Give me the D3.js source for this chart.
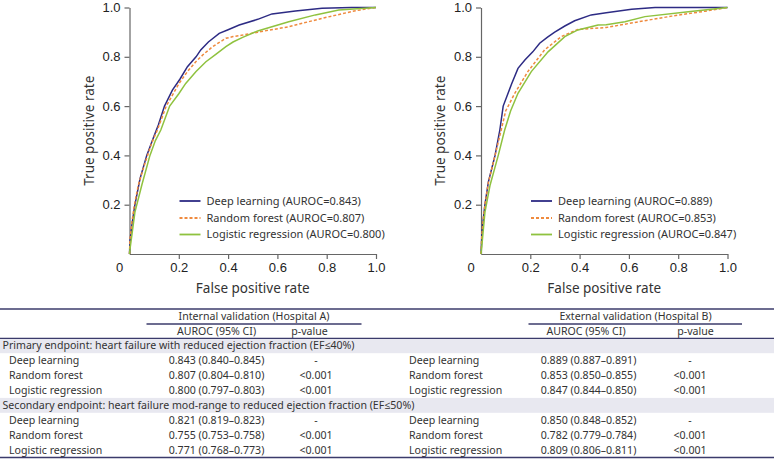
<!DOCTYPE html>
<html><head><meta charset="utf-8">
<script src="https://cdn.jsdelivr.net/npm/d3@7"></script>
<style>body{margin:0;background:#fff}svg{display:block}</style>
</head><body>
<script>
// ---------- DATA ----------
const seriesNames = ["Deep learning", "Random forest", "Logistic regression"];
const aurocA = ["0.843", "0.807", "0.800"];
const aurocB = ["0.889", "0.853", "0.847"];
const xTickLabels = ["0.2", "0.4", "0.6", "0.8", "1.0"];
const yTickLabels = ["0.2", "0.4", "0.6", "0.8", "1.0"];
const xTicks = [0.2, 0.4, 0.6, 0.8, 1.0];
const yTicks = [0.2, 0.4, 0.6, 0.8, 1.0];

// ROC curves (FPR, TPR) – Hospital A
const deepA = [[0,0],[0.002,0.05],[0.01,0.12],[0.022,0.2],[0.043,0.307],[0.07,0.4],[0.1,0.48],[0.117,0.523],[0.142,0.6],[0.174,0.665],[0.205,0.71],[0.235,0.76],[0.27,0.8],[0.289,0.828],[0.32,0.86],[0.364,0.895],[0.4,0.91],[0.445,0.929],[0.52,0.952],[0.578,0.974],[0.673,0.986],[0.781,0.997],[0.9,1.0],[1,1]];
const rfA = [[0,0],[0.002,0.06],[0.01,0.13],[0.02,0.2],[0.036,0.28],[0.06,0.36],[0.09,0.45],[0.113,0.503],[0.149,0.6],[0.201,0.692],[0.235,0.74],[0.269,0.78],[0.3,0.81],[0.337,0.841],[0.37,0.862],[0.391,0.875],[0.42,0.882],[0.459,0.888],[0.52,0.9],[0.646,0.922],[0.781,0.956],[0.917,0.987],[1,1]];
const lrA = [[0,0],[0.002,0.02],[0.01,0.08],[0.022,0.17],[0.05,0.28],[0.083,0.4],[0.105,0.46],[0.127,0.503],[0.163,0.6],[0.2,0.65],[0.228,0.692],[0.27,0.74],[0.31,0.78],[0.35,0.81],[0.391,0.841],[0.42,0.86],[0.459,0.879],[0.52,0.905],[0.646,0.942],[0.754,0.97],[0.849,0.99],[1,1]];
// ROC curves – Hospital B
const deepB = [[0,0],[0.003,0.064],[0.008,0.13],[0.016,0.2],[0.03,0.293],[0.057,0.4],[0.076,0.5],[0.09,0.6],[0.124,0.69],[0.15,0.753],[0.178,0.787],[0.21,0.82],[0.238,0.855],[0.27,0.88],[0.299,0.9],[0.34,0.925],[0.38,0.946],[0.447,0.97],[0.508,0.979],[0.611,0.993],[0.706,1.0],[1,1]];
const rfB = [[0,0],[0.003,0.07],[0.008,0.13],[0.016,0.2],[0.03,0.29],[0.057,0.4],[0.082,0.503],[0.1,0.58],[0.137,0.652],[0.19,0.74],[0.258,0.828],[0.326,0.882],[0.393,0.911],[0.508,0.919],[0.638,0.942],[0.774,0.965],[0.909,0.985],[1,1]];
const lrB = [[0,0],[0.003,0.03],[0.016,0.17],[0.037,0.28],[0.07,0.4],[0.096,0.503],[0.12,0.58],[0.15,0.652],[0.204,0.74],[0.272,0.82],[0.34,0.882],[0.393,0.909],[0.475,0.929],[0.508,0.93],[0.584,0.942],[0.665,0.963],[0.841,0.983],[1,1]];

// Table
const tableModels = ["Deep learning", "Random forest", "Logistic regression"];
const primaryA = ["0.843 (0.840–0.845)", "0.807 (0.804–0.810)", "0.800 (0.797–0.803)"];
const primaryApv = ["-", "<0.001", "<0.001"];
const primaryB = ["0.889 (0.887–0.891)", "0.853 (0.850–0.855)", "0.847 (0.844–0.850)"];
const primaryBpv = ["-", "<0.001", "<0.001"];
const secondaryA = ["0.821 (0.819–0.823)", "0.755 (0.753–0.758)", "0.771 (0.768–0.773)"];
const secondaryApv = ["-", "<0.001", "<0.001"];
const secondaryB = ["0.850 (0.848–0.852)", "0.782 (0.779–0.784)", "0.809 (0.806–0.811)"];
const secondaryBpv = ["-", "<0.001", "<0.001"];
const sectionTitles = ["Primary endpoint: heart failure with reduced ejection fraction (EF≤40%)",
  "Secondary endpoint: heart failure mod-range to reduced ejection fraction (EF≤50%)"];

// ---------- STYLE ----------
const colors = ["#2d2b84", "#ef8a3e", "#8fc23f"];
const dashes = [null, "3,2", null];
const W = 774, H = 460;
const svg = d3.select("body").append("svg").attr("width", W).attr("height", H);
const tickFont = "'Liberation Sans', Arial, sans-serif";
const textFont = "'Noto Sans', 'Open Sans', sans-serif";

function drawPanel(x0, series, aurocs) {
  const y0 = 7.5, size = 246.5;
  const x = d3.scaleLinear().domain([0, 1]).range([x0, x0 + size]);
  const y = d3.scaleLinear().domain([0, 1]).range([y0 + size, y0]);
  const g = svg.append("g");
  const axX = g.append("g").attr("transform", `translate(0,${y0 + size})`)
    .call(d3.axisBottom(x).tickValues(xTicks).tickFormat((d, i) => xTickLabels[i]).tickSizeInner(5).tickSizeOuter(0).tickPadding(4));
  const axY = g.append("g").attr("transform", `translate(${x0},0)`)
    .call(d3.axisLeft(y).tickValues(yTicks).tickFormat((d, i) => yTickLabels[i]).tickSizeInner(5).tickSizeOuter(0).tickPadding(4));
  [axX, axY].forEach(a => {
    a.select(".domain").attr("stroke", "#666").attr("stroke-width", 1.2);
    a.selectAll(".tick line").attr("stroke", "#666").attr("stroke-width", 1.2);
    a.selectAll("text").attr("font-family", tickFont).attr("font-size", 13).attr("fill", "#222");
  });
  g.append("text").attr("x", x(0) - 10).attr("y", y(0) + 18).attr("font-family", tickFont)
    .attr("font-size", 13).attr("fill", "#222").attr("text-anchor", "middle").text("0");
  g.append("text").attr("x", x(0.5)).attr("y", y(0) + 39).attr("font-family", textFont)
    .attr("font-size", 13.5).attr("fill", "#333").attr("text-anchor", "middle").text("False positive rate");
  g.append("text").attr("transform", `translate(${x0 - 36},${y(0.5)}) rotate(-90)`)
    .attr("font-family", textFont).attr("font-size", 13.5).attr("fill", "#333")
    .attr("text-anchor", "middle").text("True positive rate");

  const line = d3.line().x(d => x(d[0])).y(d => y(d[1]));
  series.forEach((s, i) => {
    g.append("path").datum(s).attr("d", line).attr("fill", "none")
      .attr("stroke", colors[i]).attr("stroke-width", 1.5)
      .attr("stroke-dasharray", dashes[i]);
  });
  // legend
  const legY = [201, 218, 234.5];
  seriesNames.forEach((n, i) => {
    g.append("line").attr("x1", x0 + 50).attr("x2", x0 + 71).attr("y1", legY[i]).attr("y2", legY[i])
      .attr("stroke", colors[i]).attr("stroke-width", 1.8).attr("stroke-dasharray", dashes[i]);
    g.append("text").attr("x", x0 + 77).attr("y", legY[i]).attr("dy", "0.35em")
      .attr("font-family", textFont).attr("font-size", 11).attr("fill", "#333")
      .text(`${n} (AUROC=${aurocs[i]})`);
  });
}
drawPanel(129.5, [deepA, rfA, lrA], aurocA);
drawPanel(481, [deepB, rfB, lrB], aurocB);

// ---------- TABLE ----------
const t = svg.append("g").attr("font-family", textFont).attr("font-size", 10.6).attr("fill", "#333");
const lineCol = "#3b3b6b";
const rowTop = 338.3, rowH = 14.9;
const rowsData = [];
rowsData.push({section: sectionTitles[0]});
tableModels.forEach((m, i) => rowsData.push({m, a: primaryA[i], ap: primaryApv[i], b: primaryB[i], bp: primaryBpv[i]}));
rowsData.push({section: sectionTitles[1]});
tableModels.forEach((m, i) => rowsData.push({m, a: secondaryA[i], ap: secondaryApv[i], b: secondaryB[i], bp: secondaryBpv[i]}));

rowsData.forEach((r, i) => {
  const yTop = rowTop + i * rowH, yc = yTop + rowH / 2;
  if (r.section) {
    t.append("rect").attr("x", 0).attr("y", yTop).attr("width", W).attr("height", rowH).attr("fill", "#e8e8f0");
    t.append("text").attr("x", 2.5).attr("y", yc).attr("dy", "0.35em").text(r.section);
  } else {
    t.append("text").attr("x", 9).attr("y", yc).attr("dy", "0.35em").text(r.m);
    t.append("text").attr("x", 216.5).attr("y", yc).attr("dy", "0.35em").attr("text-anchor", "middle").text(r.a);
    t.append("text").attr("x", 316).attr("y", yc).attr("dy", "0.35em").attr("text-anchor", "middle").text(r.ap);
    t.append("text").attr("x", 409).attr("y", yc).attr("dy", "0.35em").text(r.m);
    t.append("text").attr("x", 588.5).attr("y", yc).attr("dy", "0.35em").attr("text-anchor", "middle").text(r.b);
    t.append("text").attr("x", 690).attr("y", yc).attr("dy", "0.35em").attr("text-anchor", "middle").text(r.bp);
  }
});
// header
t.append("text").attr("x", 254).attr("y", 316.5).attr("dy", "0.35em").attr("text-anchor", "middle").text("Internal validation (Hospital A)");
t.append("text").attr("x", 635.5).attr("y", 316.5).attr("dy", "0.35em").attr("text-anchor", "middle").text("External validation (Hospital B)");
t.append("text").attr("x", 216.5).attr("y", 331).attr("dy", "0.35em").attr("text-anchor", "middle").text("AUROC (95% CI)");
t.append("text").attr("x", 309.5).attr("y", 331).attr("dy", "0.35em").attr("text-anchor", "middle").text("p-value");
t.append("text").attr("x", 586).attr("y", 331).attr("dy", "0.35em").attr("text-anchor", "middle").text("AUROC (95% CI)");
t.append("text").attr("x", 695.5).attr("y", 331).attr("dy", "0.35em").attr("text-anchor", "middle").text("p-value");
// rules
const rules = [[0, W, 309, 1.5], [146.5, 361.5, 324, 1.3], [528.5, 742, 324, 1.3], [0, W, rowTop, 1.3], [0, W, rowTop + 8 * rowH, 1.5]];
rules.forEach(([x1, x2, yy, sw]) => t.append("line").attr("x1", x1).attr("x2", x2).attr("y1", yy).attr("y2", yy)
  .attr("stroke", lineCol).attr("stroke-width", sw));
</script>
</body></html>
